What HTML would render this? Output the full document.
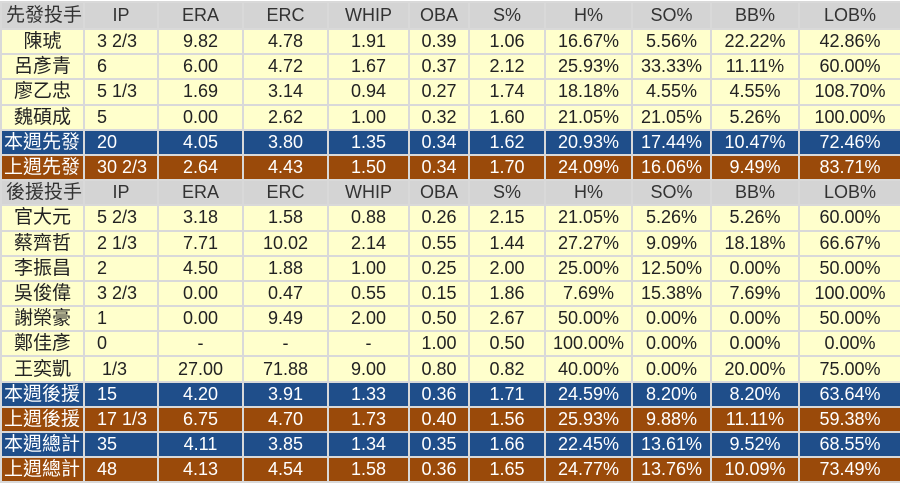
<!DOCTYPE html>
<html><head><meta charset="utf-8">
<style>
html,body{margin:0;padding:0;background:#fff;}
body{width:900px;height:482px;overflow:hidden;font-family:"Liberation Sans","Noto Sans CJK TC",sans-serif;}
table{border-collapse:collapse;table-layout:fixed;position:absolute;left:0;top:1px;width:900px;}
td{height:23.2px;padding:0;font-size:18px;text-align:center;border:2px solid #d9d9d9;color:#222;line-height:21px;white-space:nowrap;overflow:hidden;}
td:first-child{font-size:19px;}
tr:first-child td{height:25px;}
tr.h td{background:#d4d4d4;color:#333;}
tr.p td{background:#ffffcc;}
tr.b td{background:#1f4e8a;color:#fff;}
tr.o td{background:#9a4a0a;color:#fff;}
td.ip{text-align:left;padding-left:12px;}
tr.b td:first-child,tr.o td:first-child{text-align:left;padding-left:2px;}
tr.h td:first-child{text-align:left;padding-left:4px;}
</style></head><body>
<table>
<colgroup><col style="width:83px"><col style="width:74px"><col style="width:85px"><col style="width:85px"><col style="width:81px"><col style="width:60px"><col style="width:76px"><col style="width:87px"><col style="width:79px"><col style="width:88px"><col style="width:102px"></colgroup>
<tr class="h"><td>先發投手</td><td>IP</td><td>ERA</td><td>ERC</td><td>WHIP</td><td>OBA</td><td>S%</td><td>H%</td><td>SO%</td><td>BB%</td><td>LOB%</td></tr>
<tr class="p"><td>陳琥</td><td class="ip">3 2/3</td><td>9.82</td><td>4.78</td><td>1.91</td><td>0.39</td><td>1.06</td><td>16.67%</td><td>5.56%</td><td>22.22%</td><td>42.86%</td></tr>
<tr class="p"><td>呂彥青</td><td class="ip">6</td><td>6.00</td><td>4.72</td><td>1.67</td><td>0.37</td><td>2.12</td><td>25.93%</td><td>33.33%</td><td>11.11%</td><td>60.00%</td></tr>
<tr class="p"><td>廖乙忠</td><td class="ip">5 1/3</td><td>1.69</td><td>3.14</td><td>0.94</td><td>0.27</td><td>1.74</td><td>18.18%</td><td>4.55%</td><td>4.55%</td><td>108.70%</td></tr>
<tr class="p"><td>魏碩成</td><td class="ip">5</td><td>0.00</td><td>2.62</td><td>1.00</td><td>0.32</td><td>1.60</td><td>21.05%</td><td>21.05%</td><td>5.26%</td><td>100.00%</td></tr>
<tr class="b"><td>本週先發</td><td class="ip">20</td><td>4.05</td><td>3.80</td><td>1.35</td><td>0.34</td><td>1.62</td><td>20.93%</td><td>17.44%</td><td>10.47%</td><td>72.46%</td></tr>
<tr class="o"><td>上週先發</td><td class="ip">30 2/3</td><td>2.64</td><td>4.43</td><td>1.50</td><td>0.34</td><td>1.70</td><td>24.09%</td><td>16.06%</td><td>9.49%</td><td>83.71%</td></tr>
<tr class="h"><td>後援投手</td><td>IP</td><td>ERA</td><td>ERC</td><td>WHIP</td><td>OBA</td><td>S%</td><td>H%</td><td>SO%</td><td>BB%</td><td>LOB%</td></tr>
<tr class="p"><td>官大元</td><td class="ip">5 2/3</td><td>3.18</td><td>1.58</td><td>0.88</td><td>0.26</td><td>2.15</td><td>21.05%</td><td>5.26%</td><td>5.26%</td><td>60.00%</td></tr>
<tr class="p"><td>蔡齊哲</td><td class="ip">2 1/3</td><td>7.71</td><td>10.02</td><td>2.14</td><td>0.55</td><td>1.44</td><td>27.27%</td><td>9.09%</td><td>18.18%</td><td>66.67%</td></tr>
<tr class="p"><td>李振昌</td><td class="ip">2</td><td>4.50</td><td>1.88</td><td>1.00</td><td>0.25</td><td>2.00</td><td>25.00%</td><td>12.50%</td><td>0.00%</td><td>50.00%</td></tr>
<tr class="p"><td>吳俊偉</td><td class="ip">3 2/3</td><td>0.00</td><td>0.47</td><td>0.55</td><td>0.15</td><td>1.86</td><td>7.69%</td><td>15.38%</td><td>7.69%</td><td>100.00%</td></tr>
<tr class="p"><td>謝榮豪</td><td class="ip">1</td><td>0.00</td><td>9.49</td><td>2.00</td><td>0.50</td><td>2.67</td><td>50.00%</td><td>0.00%</td><td>0.00%</td><td>50.00%</td></tr>
<tr class="p"><td>鄭佳彥</td><td class="ip">0</td><td>-</td><td>-</td><td>-</td><td>1.00</td><td>0.50</td><td>100.00%</td><td>0.00%</td><td>0.00%</td><td>0.00%</td></tr>
<tr class="p"><td>王奕凱</td><td class="ip">&nbsp;1/3</td><td>27.00</td><td>71.88</td><td>9.00</td><td>0.80</td><td>0.82</td><td>40.00%</td><td>0.00%</td><td>20.00%</td><td>75.00%</td></tr>
<tr class="b"><td>本週後援</td><td class="ip">15</td><td>4.20</td><td>3.91</td><td>1.33</td><td>0.36</td><td>1.71</td><td>24.59%</td><td>8.20%</td><td>8.20%</td><td>63.64%</td></tr>
<tr class="o"><td>上週後援</td><td class="ip">17 1/3</td><td>6.75</td><td>4.70</td><td>1.73</td><td>0.40</td><td>1.56</td><td>25.93%</td><td>9.88%</td><td>11.11%</td><td>59.38%</td></tr>
<tr class="b"><td>本週總計</td><td class="ip">35</td><td>4.11</td><td>3.85</td><td>1.34</td><td>0.35</td><td>1.66</td><td>22.45%</td><td>13.61%</td><td>9.52%</td><td>68.55%</td></tr>
<tr class="o"><td>上週總計</td><td class="ip">48</td><td>4.13</td><td>4.54</td><td>1.58</td><td>0.36</td><td>1.65</td><td>24.77%</td><td>13.76%</td><td>10.09%</td><td>73.49%</td></tr>
</table>
</body></html>
